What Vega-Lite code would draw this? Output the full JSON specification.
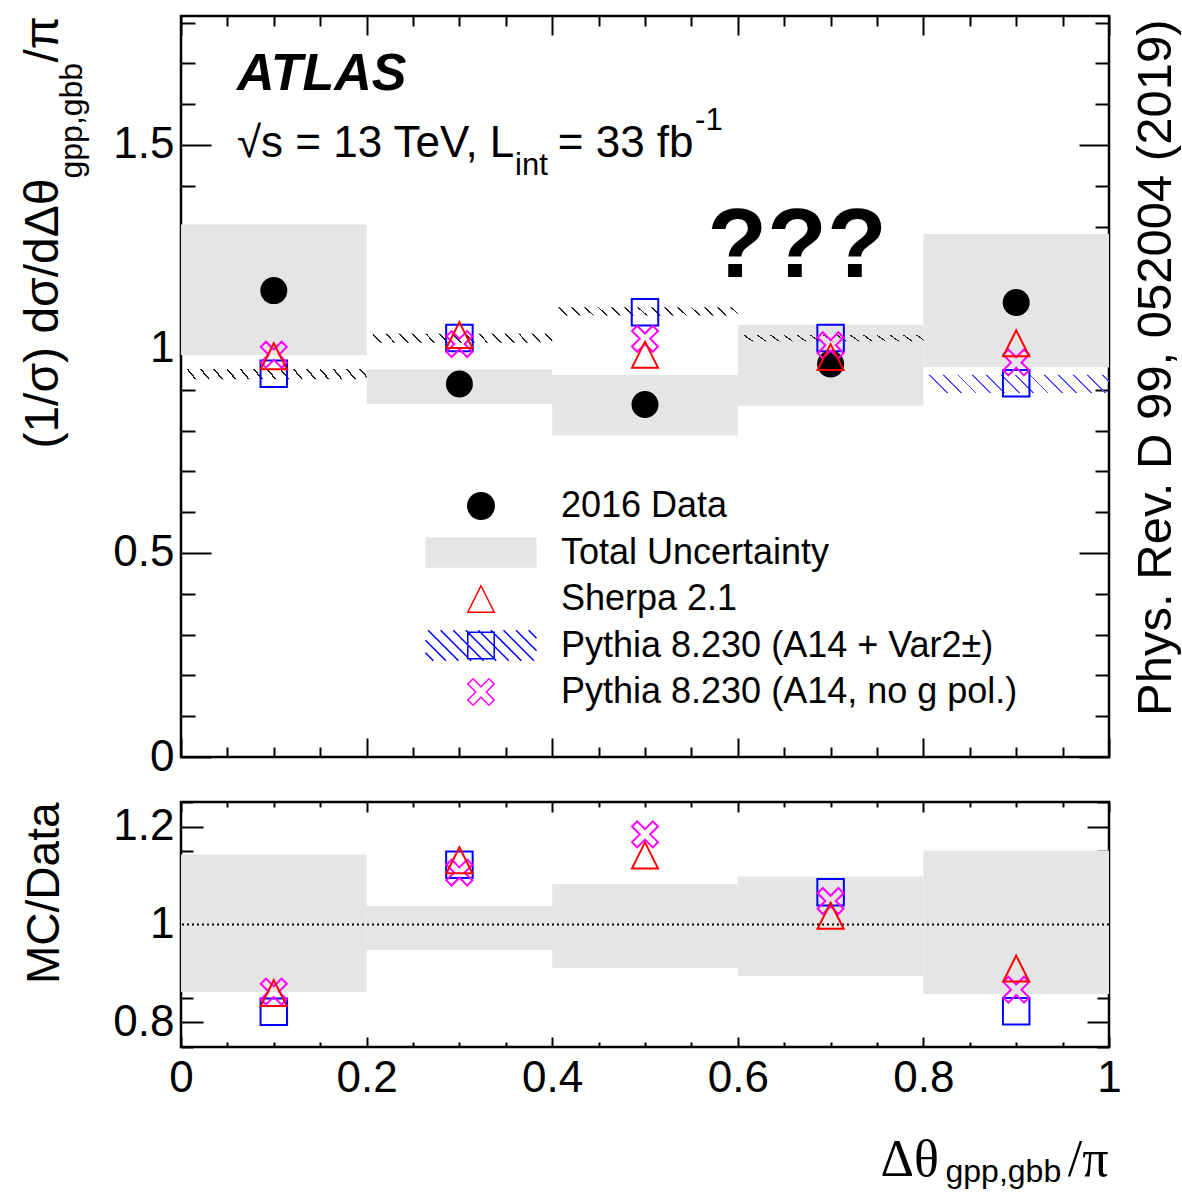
{
  "$schema": "https://vega.github.io/schema/vega-lite/v6.json",
  "background": "white",
  "padding": {"left": 17, "top": 13, "right": 2, "bottom": 0},
  "datasets": {
    "bands": [
      {"lo": 0, "hi": 0.2, "ylo": 0.985, "yhi": 1.305},
      {"lo": 0.2, "hi": 0.4, "ylo": 0.866, "yhi": 0.95},
      {"lo": 0.4, "hi": 0.6, "ylo": 0.788, "yhi": 0.936},
      {"lo": 0.6, "hi": 0.8, "ylo": 0.861, "yhi": 1.059},
      {"lo": 0.8, "hi": 1.0, "ylo": 0.955, "yhi": 1.282}
    ],
    "hatch": [
      {"lo": 0, "hi": 0.2, "ylo": 0.926, "yhi": 0.951},
      {"lo": 0.2, "hi": 0.4, "ylo": 1.015, "yhi": 1.037},
      {"lo": 0.4, "hi": 0.6, "ylo": 1.082, "yhi": 1.102},
      {"lo": 0.6, "hi": 0.8, "ylo": 1.019, "yhi": 1.034},
      {"lo": 0.8, "hi": 1.0, "ylo": 0.892, "yhi": 0.937}
    ],
    "points": [
      {"series": "2016 Data", "x": 0.1, "value": 1.143},
      {"series": "2016 Data", "x": 0.3, "value": 0.914},
      {"series": "2016 Data", "x": 0.5, "value": 0.864},
      {"series": "2016 Data", "x": 0.7, "value": 0.963},
      {"series": "2016 Data", "x": 0.9, "value": 1.114},
      {"series": "Sherpa 2.1", "x": 0.1, "value": 0.982},
      {"series": "Sherpa 2.1", "x": 0.3, "value": 1.034},
      {"series": "Sherpa 2.1", "x": 0.5, "value": 0.986},
      {"series": "Sherpa 2.1", "x": 0.7, "value": 0.98},
      {"series": "Sherpa 2.1", "x": 0.9, "value": 1.014},
      {"series": "Pythia 8.230 (A14 + Var2±)", "x": 0.1, "value": 0.939},
      {"series": "Pythia 8.230 (A14 + Var2±)", "x": 0.3, "value": 1.027},
      {"series": "Pythia 8.230 (A14 + Var2±)", "x": 0.5, "value": 1.09},
      {"series": "Pythia 8.230 (A14 + Var2±)", "x": 0.7, "value": 1.027},
      {"series": "Pythia 8.230 (A14 + Var2±)", "x": 0.9, "value": 0.916},
      {"series": "Pythia 8.230 (A14, no g pol.)", "x": 0.1, "value": 0.986},
      {"series": "Pythia 8.230 (A14, no g pol.)", "x": 0.3, "value": 1.012},
      {"series": "Pythia 8.230 (A14, no g pol.)", "x": 0.5, "value": 1.025},
      {"series": "Pythia 8.230 (A14, no g pol.)", "x": 0.7, "value": 1.009},
      {"series": "Pythia 8.230 (A14, no g pol.)", "x": 0.9, "value": 0.967}
    ],
    "ratioBands": [
      {"lo": 0, "hi": 0.2, "ylo": 0.862, "yhi": 1.143},
      {"lo": 0.2, "hi": 0.4, "ylo": 0.948, "yhi": 1.038},
      {"lo": 0.4, "hi": 0.6, "ylo": 0.911, "yhi": 1.082},
      {"lo": 0.6, "hi": 0.8, "ylo": 0.895, "yhi": 1.098},
      {"lo": 0.8, "hi": 1.0, "ylo": 0.858, "yhi": 1.151}
    ],
    "ratios": [
      {"series": "Sherpa 2.1", "x": 0.1, "value": 0.86},
      {"series": "Sherpa 2.1", "x": 0.3, "value": 1.131},
      {"series": "Sherpa 2.1", "x": 0.5, "value": 1.141},
      {"series": "Sherpa 2.1", "x": 0.7, "value": 1.018},
      {"series": "Sherpa 2.1", "x": 0.9, "value": 0.91},
      {"series": "Pythia 8.230 (A14 + Var2±)", "x": 0.1, "value": 0.822},
      {"series": "Pythia 8.230 (A14 + Var2±)", "x": 0.3, "value": 1.122},
      {"series": "Pythia 8.230 (A14 + Var2±)", "x": 0.7, "value": 1.066},
      {"series": "Pythia 8.230 (A14 + Var2±)", "x": 0.9, "value": 0.823},
      {"series": "Pythia 8.230 (A14, no g pol.)", "x": 0.1, "value": 0.863},
      {"series": "Pythia 8.230 (A14, no g pol.)", "x": 0.3, "value": 1.106},
      {"series": "Pythia 8.230 (A14, no g pol.)", "x": 0.5, "value": 1.184},
      {"series": "Pythia 8.230 (A14, no g pol.)", "x": 0.7, "value": 1.048},
      {"series": "Pythia 8.230 (A14, no g pol.)", "x": 0.9, "value": 0.867}
    ]
  },
  "vconcat": [
    {
      "width": 928,
      "height": 741,
      "resolve": {"axis": {"x": "independent", "y": "independent"}},
      "layer": [
        {
          "data": {"name": "bands"},
          "mark": {"type": "rect", "fill": "#e5e5e5"},
          "encoding": {
            "x": {"field": "lo", "type": "quantitative", "scale": {"domain": [0, 1], "nice": false, "zero": false},
              "axis": {"orient": "bottom", "values": [0,0.05,0.1,0.15,0.2,0.25,0.3,0.35,0.4,0.45,0.5,0.55,0.6,0.65,0.7,0.75,0.8,0.85,0.9,0.95,1],
                "tickSize": {"condition": {"test": "abs(datum.value*5-round(datum.value*5))<1e-6", "value": -19}, "value": -10},
                "labels": false, "domain": false, "grid": false, "title": null}},
            "x2": {"field": "hi"},
            "y": {"field": "ylo", "type": "quantitative", "scale": {"domain": [0, 1.816], "nice": false, "zero": false},
              "axis": {"orient": "left", "values": [0,0.1,0.2,0.3,0.4,0.5,0.6,0.7,0.8,0.9,1,1.1,1.2,1.3,1.4,1.5,1.6,1.7,1.8],
                "tickSize": {"condition": {"test": "abs(datum.value*2-round(datum.value*2))<1e-6", "value": -30}, "value": -14},
                "labelExpr": "abs(datum.value*2-round(datum.value*2))<1e-6 ? datum.label : ''",
                "labelFontSize": {"condition": {"test": "abs(datum.value*2-round(datum.value*2))<1e-6", "value": 44}, "value": 0},
                "format": "~g", "labelPadding": 37, "domain": false, "grid": false,
                "title": "(1/σ) dσ/dΔθ", "titleFontSize": 48, "titleAngle": -90, "titleAlign": "right", "titleBaseline": "alphabetic",
                "titleX": -124, "titleY": 162}},
            "y2": {"field": "yhi"}
          }
        },
        {
          "data": {"name": "hatch"},
          "transform": [{"filter": "datum.lo < 0.79"}],
          "mark": {"type": "rect", "fill": {"gradient": "linear", "x1": 0, "y1": 0.046, "x2": 1, "y2": 0, "stops": [
            {"offset": 0, "color": "rgba(0,0,0,0)"},
            {"offset": 0.0307, "color": "rgba(0,0,0,0)"}, {"offset": 0.0307, "color": "#1a1a1a"}, {"offset": 0.0407, "color": "#1a1a1a"}, {"offset": 0.0407, "color": "rgba(0,0,0,0)"},
            {"offset": 0.1021, "color": "rgba(0,0,0,0)"}, {"offset": 0.1021, "color": "#1a1a1a"}, {"offset": 0.1121, "color": "#1a1a1a"}, {"offset": 0.1121, "color": "rgba(0,0,0,0)"},
            {"offset": 0.1736, "color": "rgba(0,0,0,0)"}, {"offset": 0.1736, "color": "#1a1a1a"}, {"offset": 0.1836, "color": "#1a1a1a"}, {"offset": 0.1836, "color": "rgba(0,0,0,0)"},
            {"offset": 0.245, "color": "rgba(0,0,0,0)"}, {"offset": 0.245, "color": "#1a1a1a"}, {"offset": 0.255, "color": "#1a1a1a"}, {"offset": 0.255, "color": "rgba(0,0,0,0)"},
            {"offset": 0.3164, "color": "rgba(0,0,0,0)"}, {"offset": 0.3164, "color": "#1a1a1a"}, {"offset": 0.3264, "color": "#1a1a1a"}, {"offset": 0.3264, "color": "rgba(0,0,0,0)"},
            {"offset": 0.3879, "color": "rgba(0,0,0,0)"}, {"offset": 0.3879, "color": "#1a1a1a"}, {"offset": 0.3979, "color": "#1a1a1a"}, {"offset": 0.3979, "color": "rgba(0,0,0,0)"},
            {"offset": 0.4593, "color": "rgba(0,0,0,0)"}, {"offset": 0.4593, "color": "#1a1a1a"}, {"offset": 0.4693, "color": "#1a1a1a"}, {"offset": 0.4693, "color": "rgba(0,0,0,0)"},
            {"offset": 0.5307, "color": "rgba(0,0,0,0)"}, {"offset": 0.5307, "color": "#1a1a1a"}, {"offset": 0.5407, "color": "#1a1a1a"}, {"offset": 0.5407, "color": "rgba(0,0,0,0)"},
            {"offset": 0.6021, "color": "rgba(0,0,0,0)"}, {"offset": 0.6021, "color": "#1a1a1a"}, {"offset": 0.6121, "color": "#1a1a1a"}, {"offset": 0.6121, "color": "rgba(0,0,0,0)"},
            {"offset": 0.6736, "color": "rgba(0,0,0,0)"}, {"offset": 0.6736, "color": "#1a1a1a"}, {"offset": 0.6836, "color": "#1a1a1a"}, {"offset": 0.6836, "color": "rgba(0,0,0,0)"},
            {"offset": 0.745, "color": "rgba(0,0,0,0)"}, {"offset": 0.745, "color": "#1a1a1a"}, {"offset": 0.755, "color": "#1a1a1a"}, {"offset": 0.755, "color": "rgba(0,0,0,0)"},
            {"offset": 0.8164, "color": "rgba(0,0,0,0)"}, {"offset": 0.8164, "color": "#1a1a1a"}, {"offset": 0.8264, "color": "#1a1a1a"}, {"offset": 0.8264, "color": "rgba(0,0,0,0)"},
            {"offset": 0.8879, "color": "rgba(0,0,0,0)"}, {"offset": 0.8879, "color": "#1a1a1a"}, {"offset": 0.8979, "color": "#1a1a1a"}, {"offset": 0.8979, "color": "rgba(0,0,0,0)"},
            {"offset": 0.9593, "color": "rgba(0,0,0,0)"}, {"offset": 0.9593, "color": "#1a1a1a"}, {"offset": 0.9693, "color": "#1a1a1a"}, {"offset": 0.9693, "color": "rgba(0,0,0,0)"},
            {"offset": 1, "color": "rgba(0,0,0,0)"}
          ]}},
          "encoding": {
            "x": {"field": "lo", "type": "quantitative", "scale": {"domain": [0, 1], "nice": false, "zero": false},
              "axis": {"orient": "top", "values": [0,0.05,0.1,0.15,0.2,0.25,0.3,0.35,0.4,0.45,0.5,0.55,0.6,0.65,0.7,0.75,0.8,0.85,0.9,0.95,1],
                "tickSize": {"condition": {"test": "abs(datum.value*5-round(datum.value*5))<1e-6", "value": -19}, "value": -10},
                "labels": false, "domain": false, "grid": false, "title": null}},
            "x2": {"field": "hi"},
            "y": {"field": "ylo", "type": "quantitative", "scale": {"domain": [0, 1.816], "nice": false, "zero": false},
              "axis": {"orient": "right", "values": [0,0.1,0.2,0.3,0.4,0.5,0.6,0.7,0.8,0.9,1,1.1,1.2,1.3,1.4,1.5,1.6,1.7,1.8],
                "tickSize": {"condition": {"test": "abs(datum.value*2-round(datum.value*2))<1e-6", "value": -30}, "value": -14},
                "labels": false, "domain": false, "grid": false,
                "title": "Phys. Rev. D 99, 052004 (2019)", "titleFontSize": 49, "titleAngle": -90, "titleAlign": "right", "titleBaseline": "alphabetic",
                "titleX": 61, "titleY": 3}},
            "y2": {"field": "yhi"}
          }
        },
        {
          "data": {"name": "hatch"},
          "transform": [{"filter": "datum.lo > 0.79"}],
          "mark": {"type": "rect", "fill": {"gradient": "linear", "x1": 0, "y1": 0.099, "x2": 1, "y2": 0, "stops": [
            {"offset": 0, "color": "rgba(0,0,0,0)"},
            {"offset": 0.0335, "color": "rgba(0,0,0,0)"}, {"offset": 0.0335, "color": "#4d4dff"}, {"offset": 0.0435, "color": "#4d4dff"}, {"offset": 0.0435, "color": "rgba(0,0,0,0)"},
            {"offset": 0.1104, "color": "rgba(0,0,0,0)"}, {"offset": 0.1104, "color": "#4d4dff"}, {"offset": 0.1204, "color": "#4d4dff"}, {"offset": 0.1204, "color": "rgba(0,0,0,0)"},
            {"offset": 0.1873, "color": "rgba(0,0,0,0)"}, {"offset": 0.1873, "color": "#4d4dff"}, {"offset": 0.1973, "color": "#4d4dff"}, {"offset": 0.1973, "color": "rgba(0,0,0,0)"},
            {"offset": 0.2642, "color": "rgba(0,0,0,0)"}, {"offset": 0.2642, "color": "#4d4dff"}, {"offset": 0.2742, "color": "#4d4dff"}, {"offset": 0.2742, "color": "rgba(0,0,0,0)"},
            {"offset": 0.3412, "color": "rgba(0,0,0,0)"}, {"offset": 0.3412, "color": "#4d4dff"}, {"offset": 0.3512, "color": "#4d4dff"}, {"offset": 0.3512, "color": "rgba(0,0,0,0)"},
            {"offset": 0.4181, "color": "rgba(0,0,0,0)"}, {"offset": 0.4181, "color": "#4d4dff"}, {"offset": 0.4281, "color": "#4d4dff"}, {"offset": 0.4281, "color": "rgba(0,0,0,0)"},
            {"offset": 0.495, "color": "rgba(0,0,0,0)"}, {"offset": 0.495, "color": "#4d4dff"}, {"offset": 0.505, "color": "#4d4dff"}, {"offset": 0.505, "color": "rgba(0,0,0,0)"},
            {"offset": 0.5719, "color": "rgba(0,0,0,0)"}, {"offset": 0.5719, "color": "#4d4dff"}, {"offset": 0.5819, "color": "#4d4dff"}, {"offset": 0.5819, "color": "rgba(0,0,0,0)"},
            {"offset": 0.6488, "color": "rgba(0,0,0,0)"}, {"offset": 0.6488, "color": "#4d4dff"}, {"offset": 0.6588, "color": "#4d4dff"}, {"offset": 0.6588, "color": "rgba(0,0,0,0)"},
            {"offset": 0.7258, "color": "rgba(0,0,0,0)"}, {"offset": 0.7258, "color": "#4d4dff"}, {"offset": 0.7358, "color": "#4d4dff"}, {"offset": 0.7358, "color": "rgba(0,0,0,0)"},
            {"offset": 0.8027, "color": "rgba(0,0,0,0)"}, {"offset": 0.8027, "color": "#4d4dff"}, {"offset": 0.8127, "color": "#4d4dff"}, {"offset": 0.8127, "color": "rgba(0,0,0,0)"},
            {"offset": 0.8796, "color": "rgba(0,0,0,0)"}, {"offset": 0.8796, "color": "#4d4dff"}, {"offset": 0.8896, "color": "#4d4dff"}, {"offset": 0.8896, "color": "rgba(0,0,0,0)"},
            {"offset": 0.9565, "color": "rgba(0,0,0,0)"}, {"offset": 0.9565, "color": "#4d4dff"}, {"offset": 0.9665, "color": "#4d4dff"}, {"offset": 0.9665, "color": "rgba(0,0,0,0)"},
            {"offset": 1, "color": "rgba(0,0,0,0)"}
          ]}},
          "encoding": {
            "x": {"field": "lo", "type": "quantitative", "scale": {"domain": [0, 1], "nice": false, "zero": false}, "axis": null},
            "x2": {"field": "hi"},
            "y": {"field": "ylo", "type": "quantitative", "scale": {"domain": [0, 1.816], "nice": false, "zero": false}, "axis": null},
            "y2": {"field": "yhi"}
          }
        },
        {
          "data": {"name": "points"},
          "transform": [{"filter": "datum.series === '2016 Data'"}],
          "mark": {"type": "point", "shape": "circle", "filled": true, "fill": "black", "size": 729, "strokeWidth": 0, "opacity": 1},
          "encoding": {
            "x": {"field": "x", "type": "quantitative", "scale": {"domain": [0, 1], "nice": false, "zero": false}, "axis": null},
            "y": {"field": "value", "type": "quantitative", "scale": {"domain": [0, 1.816], "nice": false, "zero": false},
              "axis": {"orient": "left", "ticks": false, "labels": false, "domain": false, "grid": false,
                "title": "gpp,gbb", "titleFontSize": 32, "titleAngle": -90, "titleAlign": "left", "titleBaseline": "alphabetic",
                "titleX": -100, "titleY": 162}}
          }
        },
        {
          "data": {"name": "points"},
          "transform": [{"filter": "datum.series === 'Pythia 8.230 (A14 + Var2±)'"}],
          "mark": {"type": "point", "shape": "square", "filled": false, "stroke": "#0000ff", "size": 702, "strokeWidth": 2, "opacity": 1},
          "encoding": {
            "x": {"field": "x", "type": "quantitative", "scale": {"domain": [0, 1], "nice": false, "zero": false}, "axis": null},
            "y": {"field": "value", "type": "quantitative", "scale": {"domain": [0, 1.816], "nice": false, "zero": false},
              "axis": {"orient": "left", "ticks": false, "labels": false, "domain": false, "grid": false,
                "title": "/π", "titleFontSize": 48, "titleAngle": -90, "titleAlign": "left", "titleBaseline": "alphabetic",
                "titleX": -124, "titleY": 46}}
          }
        },
        {
          "data": {"name": "points"},
          "transform": [{"filter": "datum.series === 'Pythia 8.230 (A14, no g pol.)'"}],
          "mark": {"type": "point", "shape": "M-0.6,-1L0,-0.4L0.6,-1L1,-0.6L0.4,0L1,0.6L0.6,1L0,0.4L-0.6,1L-1,0.6L-0.4,0L-1,-0.6Z", "filled": false, "stroke": "#ff00ff", "size": 676, "strokeWidth": 2, "opacity": 1},
          "encoding": {
            "x": {"field": "x", "type": "quantitative", "scale": {"domain": [0, 1], "nice": false, "zero": false}, "axis": null},
            "y": {"field": "value", "type": "quantitative", "scale": {"domain": [0, 1.816], "nice": false, "zero": false}, "axis": null}
          }
        },
        {
          "data": {"name": "points"},
          "transform": [{"filter": "datum.series === 'Sherpa 2.1'"}],
          "mark": {"type": "point", "shape": "M0,-1L1,1L-1,1Z", "filled": false, "stroke": "#ff0000", "size": 676, "strokeWidth": 2, "opacity": 1},
          "encoding": {
            "x": {"field": "x", "type": "quantitative", "scale": {"domain": [0, 1], "nice": false, "zero": false}, "axis": null},
            "y": {"field": "value", "type": "quantitative", "scale": {"domain": [0, 1.816], "nice": false, "zero": false}, "axis": null}
          }
        },
        {
          "data": {"name": "points"},
          "transform": [{"filter": "false"}],
          "mark": {"type": "point", "filled": true, "opacity": 1},
          "encoding": {
            "fill": {"field": "series", "type": "nominal",
              "scale": {"domain": ["2016 Data", "Total Uncertainty", "Sherpa 2.1", "Pythia 8.230 (A14 + Var2±)", "Pythia 8.230 (A14, no g pol.)"],
                "range": ["black", "#e5e5e5", "transparent", "transparent", "transparent"]},
              "legend": {"title": null}},
            "stroke": {"field": "series", "type": "nominal",
              "scale": {"domain": ["2016 Data", "Total Uncertainty", "Sherpa 2.1", "Pythia 8.230 (A14 + Var2±)", "Pythia 8.230 (A14, no g pol.)"],
                "range": ["black", "transparent", "#ff0000", "#0000ff", "#ff00ff"]},
              "legend": {"title": null}},
            "shape": {"field": "series", "type": "nominal",
              "scale": {"domain": ["2016 Data", "Total Uncertainty", "Sherpa 2.1", "Pythia 8.230 (A14 + Var2±)", "Pythia 8.230 (A14, no g pol.)"],
                "range": ["circle", "M-4.2,-1.15H4.2V1.15H-4.2Z", "M0,-1L1,1L-1,1Z",
                  "M-1,-1H1V1H-1ZM-4.2,0.55L-3.6,1.15M-4.2,-0.4L-2.65,1.15M-4,-1.15L-1.7,1.15M-3.05,-1.15L-0.75,1.15M-2.1,-1.15L0.2,1.15M-1.15,-1.15L1.15,1.15M-0.2,-1.15L2.1,1.15M0.75,-1.15L3.05,1.15M1.7,-1.15L4,1.15M2.65,-1.15L4.2,0.4M3.6,-1.15L4.2,-0.55",
                  "M-0.6,-1L0,-0.4L0.6,-1L1,-0.6L0.4,0L1,0.6L0.6,1L0,0.4L-0.6,1L-1,0.6L-0.4,0L-1,-0.6Z"]},
              "legend": {"title": null}}
          }
        },
        {
          "data": {"values": [{}]},
          "mark": {"type": "text", "text": "ATLAS", "fontSize": 52, "fontStyle": "italic", "fontWeight": "bold", "align": "left", "baseline": "alphabetic", "color": "black"},
          "encoding": {
            "x": {"datum": 0.0603, "type": "quantitative", "scale": {"domain": [0, 1], "nice": false, "zero": false}, "axis": null},
            "y": {"datum": 1.634, "type": "quantitative", "scale": {"domain": [0, 1.816], "nice": false, "zero": false}, "axis": null}
          }
        },
        {
          "data": {"values": [{}]},
          "mark": {"type": "text", "text": "√s = 13 TeV, L", "fontSize": 44, "align": "left", "baseline": "alphabetic", "color": "black"},
          "encoding": {
            "x": {"datum": 0.0603, "type": "quantitative", "scale": {"domain": [0, 1], "nice": false, "zero": false}, "axis": null},
            "y": {"datum": 1.47, "type": "quantitative", "scale": {"domain": [0, 1.816], "nice": false, "zero": false}, "axis": null}
          }
        },
        {
          "data": {"values": [{}]},
          "mark": {"type": "text", "text": "int", "fontSize": 31, "align": "left", "baseline": "alphabetic", "color": "black"},
          "encoding": {
            "x": {"datum": 0.36, "type": "quantitative", "scale": {"domain": [0, 1], "nice": false, "zero": false}, "axis": null},
            "y": {"datum": 1.426, "type": "quantitative", "scale": {"domain": [0, 1.816], "nice": false, "zero": false}, "axis": null}
          }
        },
        {
          "data": {"values": [{}]},
          "mark": {"type": "text", "text": "= 33 fb", "fontSize": 44, "align": "left", "baseline": "alphabetic", "color": "black"},
          "encoding": {
            "x": {"datum": 0.406, "type": "quantitative", "scale": {"domain": [0, 1], "nice": false, "zero": false}, "axis": null},
            "y": {"datum": 1.47, "type": "quantitative", "scale": {"domain": [0, 1.816], "nice": false, "zero": false}, "axis": null}
          }
        },
        {
          "data": {"values": [{}]},
          "mark": {"type": "text", "text": "-1", "fontSize": 31, "align": "left", "baseline": "alphabetic", "color": "black"},
          "encoding": {
            "x": {"datum": 0.554, "type": "quantitative", "scale": {"domain": [0, 1], "nice": false, "zero": false}, "axis": null},
            "y": {"datum": 1.536, "type": "quantitative", "scale": {"domain": [0, 1.816], "nice": false, "zero": false}, "axis": null}
          }
        },
        {
          "data": {"values": [{}]},
          "mark": {"type": "text", "text": "???", "fontSize": 98, "fontWeight": "bold", "align": "left", "baseline": "alphabetic", "color": "black"},
          "encoding": {
            "x": {"datum": 0.567, "type": "quantitative", "scale": {"domain": [0, 1], "nice": false, "zero": false}, "axis": null},
            "y": {"datum": 1.176, "type": "quantitative", "scale": {"domain": [0, 1.816], "nice": false, "zero": false}, "axis": null}
          }
        }
      ]
    },
    {
      "width": 928,
      "height": 245,
      "resolve": {"axis": {"x": "independent", "y": "independent"}},
      "layer": [
        {
          "data": {"name": "ratioBands"},
          "mark": {"type": "rect", "fill": "#e5e5e5"},
          "encoding": {
            "x": {"field": "lo", "type": "quantitative", "scale": {"domain": [0, 1], "nice": false, "zero": false},
              "axis": {"orient": "bottom", "values": [0,0.05,0.1,0.15,0.2,0.25,0.3,0.35,0.4,0.45,0.5,0.55,0.6,0.65,0.7,0.75,0.8,0.85,0.9,0.95,1],
                "tickSize": {"condition": {"test": "abs(datum.value*5-round(datum.value*5))<1e-6", "value": -10}, "value": -5},
                "labelExpr": "abs(datum.value*5-round(datum.value*5))<1e-6 ? datum.label : ''",
                "labelFontSize": {"condition": {"test": "abs(datum.value*5-round(datum.value*5))<1e-6", "value": 44}, "value": 0},
                "format": "~g", "labelPadding": 19, "domain": false, "grid": false,
                "title": "Δθ", "titleFont": "Liberation Serif", "titleFontSize": 52, "titleAngle": 0, "titleAlign": "left", "titleBaseline": "alphabetic",
                "titleX": 699, "titleY": 128}},
            "x2": {"field": "hi"},
            "y": {"field": "ylo", "type": "quantitative", "scale": {"domain": [0.75, 1.25], "nice": false, "zero": false},
              "axis": {"orient": "left", "values": [0.75,0.8,0.85,0.9,0.95,1,1.05,1.1,1.15,1.2,1.25],
                "tickSize": {"condition": {"test": "abs(datum.value*5-round(datum.value*5))<1e-6", "value": -22}, "value": -12},
                "labelExpr": "abs(datum.value*5-round(datum.value*5))<1e-6 ? datum.label : ''",
                "labelFontSize": {"condition": {"test": "abs(datum.value*5-round(datum.value*5))<1e-6", "value": 44}, "value": 0},
                "format": "~g", "labelPadding": 29, "domain": false, "grid": false,
                "title": "MC/Data", "titleFontSize": 46, "titleAngle": -90, "titleAlign": "right", "titleBaseline": "alphabetic",
                "titleX": -123, "titleY": 0}},
            "y2": {"field": "yhi"}
          }
        },
        {
          "data": {"values": [{}]},
          "mark": {"type": "rule", "strokeDash": [2, 3], "strokeWidth": 2, "color": "black"},
          "encoding": {
            "y": {"datum": 1, "type": "quantitative", "scale": {"domain": [0.75, 1.25], "nice": false, "zero": false}, "axis": null}
          }
        },
        {
          "data": {"name": "ratios"},
          "transform": [{"filter": "datum.series === 'Pythia 8.230 (A14 + Var2±)'"}],
          "mark": {"type": "point", "shape": "square", "filled": false, "stroke": "#0000ff", "size": 702, "strokeWidth": 2, "opacity": 1},
          "encoding": {
            "x": {"field": "x", "type": "quantitative", "scale": {"domain": [0, 1], "nice": false, "zero": false},
              "axis": {"orient": "top", "values": [0,0.05,0.1,0.15,0.2,0.25,0.3,0.35,0.4,0.45,0.5,0.55,0.6,0.65,0.7,0.75,0.8,0.85,0.9,0.95,1],
                "tickSize": {"condition": {"test": "abs(datum.value*5-round(datum.value*5))<1e-6", "value": -10}, "value": -5},
                "labels": false, "domain": false, "grid": false, "title": null}},
            "y": {"field": "value", "type": "quantitative", "scale": {"domain": [0.75, 1.25], "nice": false, "zero": false},
              "axis": {"orient": "right", "values": [0.75,0.8,0.85,0.9,0.95,1,1.05,1.1,1.15,1.2,1.25],
                "tickSize": {"condition": {"test": "abs(datum.value*5-round(datum.value*5))<1e-6", "value": -22}, "value": -12},
                "labels": false, "domain": false, "grid": false, "title": null}}
          }
        },
        {
          "data": {"name": "ratios"},
          "transform": [{"filter": "datum.series === 'Pythia 8.230 (A14, no g pol.)'"}],
          "mark": {"type": "point", "shape": "M-0.6,-1L0,-0.4L0.6,-1L1,-0.6L0.4,0L1,0.6L0.6,1L0,0.4L-0.6,1L-1,0.6L-0.4,0L-1,-0.6Z", "filled": false, "stroke": "#ff00ff", "size": 676, "strokeWidth": 2, "opacity": 1},
          "encoding": {
            "x": {"field": "x", "type": "quantitative", "scale": {"domain": [0, 1], "nice": false, "zero": false},
              "axis": {"orient": "bottom", "ticks": false, "labels": false, "domain": false, "grid": false,
                "title": "/π", "titleFont": "Liberation Serif", "titleFontSize": 52, "titleAngle": 0, "titleAlign": "right", "titleBaseline": "alphabetic",
                "titleX": 927, "titleY": 128}},
            "y": {"field": "value", "type": "quantitative", "scale": {"domain": [0.75, 1.25], "nice": false, "zero": false}, "axis": null}
          }
        },
        {
          "data": {"name": "ratios"},
          "transform": [{"filter": "datum.series === 'Sherpa 2.1'"}],
          "mark": {"type": "point", "shape": "M0,-1L1,1L-1,1Z", "filled": false, "stroke": "#ff0000", "size": 676, "strokeWidth": 2, "opacity": 1},
          "encoding": {
            "x": {"field": "x", "type": "quantitative", "scale": {"domain": [0, 1], "nice": false, "zero": false},
              "axis": {"orient": "bottom", "ticks": false, "labels": false, "domain": false, "grid": false,
                "title": "gpp,gbb", "titleFontSize": 32, "titleAngle": 0, "titleAlign": "left", "titleBaseline": "alphabetic",
                "titleX": 764, "titleY": 134}},
            "y": {"field": "value", "type": "quantitative", "scale": {"domain": [0.75, 1.25], "nice": false, "zero": false}, "axis": null}
          }
        }
      ]
    }
  ],
  "spacing": 18,
  "resolve": {"scale": {"fill": "independent", "stroke": "independent", "shape": "independent"}},
  "config": {
    "font": "Liberation Sans",
    "view": {"stroke": "black", "strokeWidth": 2.5},
    "axis": {"tickColor": "black", "tickWidth": 2, "labelColor": "black", "labelFont": "Liberation Sans", "labelFlush": false,
      "labelOverlap": false, "labelBound": false, "labelLimit": 0, "titleColor": "black", "titleFont": "Liberation Sans",
      "titleFontWeight": "normal", "titleLimit": 2000},
    "legend": {"orient": "none", "legendX": 282, "legendY": 472, "labelFontSize": 36, "labelFont": "Liberation Sans", "labelColor": "black",
      "labelLimit": 1000, "symbolSize": 700, "symbolStrokeWidth": 1.5, "labelOffset": 62, "rowPadding": 9.5, "padding": 0},
    "text": {"font": "Liberation Sans"}
  }
}
